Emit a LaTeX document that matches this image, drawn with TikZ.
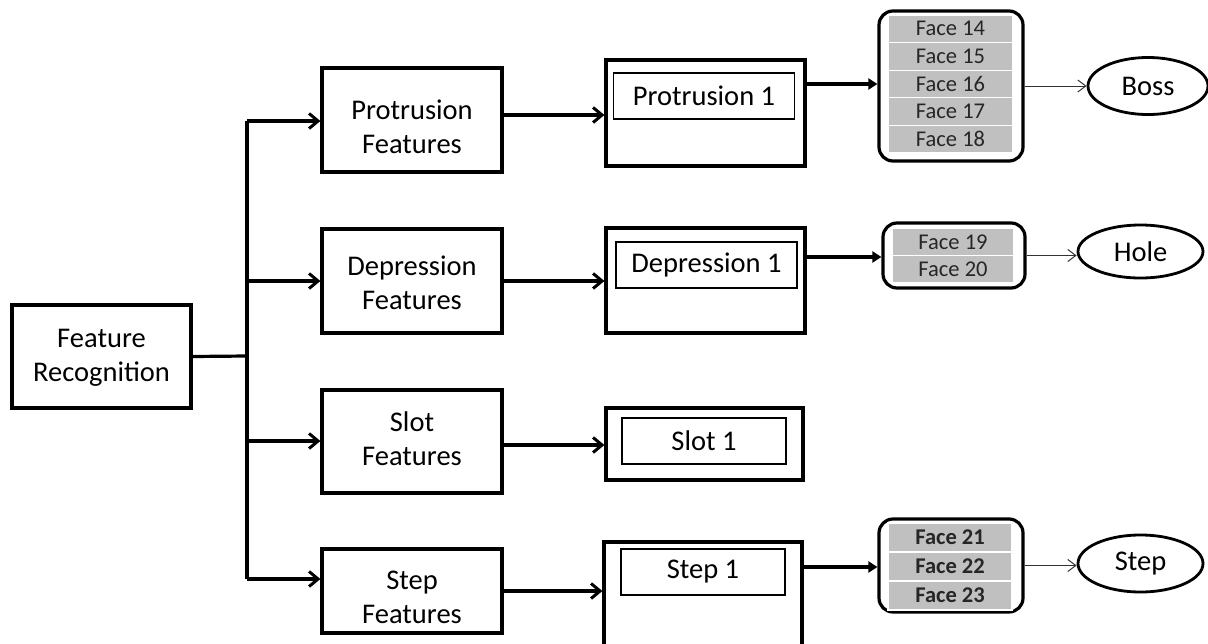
\documentclass[tikz,border=0pt]{standalone}
\usepackage{fontspec}
\setmainfont{Carlito}
\usetikzlibrary{arrows.meta,shapes.geometric}
\definecolor{cellgray}{HTML}{C0C0C0}
\definecolor{facetext}{HTML}{262626}
\begin{document}
\begin{tikzpicture}[x=1pt,y=-1pt,
  bigtxt/.style={font=\fontsize{28.5}{34}\selectfont},
  box/.style={draw, line width=3.2pt, align=center, bigtxt, inner sep=0pt},
  boxtext/.style={align=center, bigtxt, inner sep=0pt},
  labelbox/.style={draw, line width=1.1pt, bigtxt, inner sep=0pt, minimum width=#1, minimum height=46},
  facegroup/.style={draw, line width=3.2pt, rounded corners=14pt, inner sep=0pt},
  cell/.style={fill=cellgray, draw=white, line width=1.2pt, inner sep=0pt, text=facetext,
    font=\fontsize{22.5}{24}\selectfont},
  boldcell/.style={cell, font=\fontsize{22.5}{24}\selectfont\bfseries},
  shape out/.style={ellipse, draw, line width=2.8pt, bigtxt, inner sep=0pt},
  mainarrow/.style={line width=3.2pt, -{Straight Barb[length=9pt,width=15pt,line width=3pt]}},
  thickarrow/.style={line width=3.2pt, -{Triangle[length=9pt,width=11pt]}},
  thinarrow/.style={line width=1pt, draw=black!80, -{Straight Barb[length=8pt,width=12pt,line width=1pt]}},
  trunk/.style={line width=3.2pt}
]
\useasboundingbox (0,0) rectangle (1208,643);

% first column
\node[box, minimum width=179, minimum height=103] (fr) at (101.5,356.5) {};
\node[boxtext] (frt) at (101.5,358) {Feature\\Recognition};

\node[box, minimum width=180, minimum height=104] (pf) at (412,120) {};
\node[boxtext] (pft) at (412,127) {Protrusion\\Features};
\node[box, minimum width=180, minimum height=104] (df) at (412,281) {};
\node[boxtext] (dft) at (412,283) {Depression\\Features};
\node[box, minimum width=180, minimum height=103] (sf) at (412,441.5) {};
\node[boxtext] (sft) at (412,439) {Slot\\Features};
\node[box, minimum width=180, minimum height=84] (stf) at (412,591) {};
\node[boxtext] (stft) at (412,597) {Step\\Features};

% trunk
\coordinate (t1) at (247,121);
\coordinate (t2) at (247,281);
\coordinate (tm) at (247,356);
\coordinate (t3) at (247,441);
\coordinate (t4) at (247,579);
\draw[trunk] (t1) -- (t4);
\draw[trunk] (fr.east) -- (tm);
\draw[mainarrow] (t1) -- (t1 -| pf.west);
\draw[mainarrow] (t2) -- (t2 -| df.west);
\draw[mainarrow] (t3) -- (t3 -| sf.west);
\draw[mainarrow] (t4) -- (t4 -| stf.west);

% second column
\node[box, minimum width=199, minimum height=106] (p1) at (705.5,113) {};
\node[labelbox=181] (p1l) at (704,96) {Protrusion 1};
\node[box, minimum width=199, minimum height=105] (d1) at (705.5,280.5) {};
\node[labelbox=181] (d1l) at (706.5,265) {Depression 1};
\node[box, minimum width=197, minimum height=72] (s1) at (704.5,444) {};
\node[labelbox=164] (s1l) at (704,441) {Slot 1};
\node[box, minimum width=198, minimum height=104] (st1) at (703,594) {};
\node[labelbox=164] (st1l) at (703,572) {Step 1};

\coordinate (pa) at (502,115);
\coordinate (sa) at (502,445);
\draw[mainarrow] (pa) -- (pa -| p1.west);
\draw[mainarrow] (df.east) -- (df.east -| d1.west);
\draw[mainarrow] (sa) -- (sa -| s1.west);
\draw[mainarrow] (stf.east) -- (stf.east -| st1.west);

% face groups
\node[facegroup, minimum width=144, minimum height=150] (fb1) at (951,86) {};
\node[cell, minimum width=125, minimum height=27.6] (c14) at (950.5,28.8) {Face 14};
\node[cell, minimum width=125, minimum height=27.6] (c15) at (950.5,56.4) {Face 15};
\node[cell, minimum width=125, minimum height=27.6] (c16) at (950.5,84) {Face 16};
\node[cell, minimum width=125, minimum height=27.6] (c17) at (950.5,111.6) {Face 17};
\node[cell, minimum width=125, minimum height=27.6] (c18) at (950.5,139.2) {Face 18};

\node[facegroup, minimum width=142, minimum height=65] (fb2) at (954,255.5) {};
\node[cell, minimum width=122, minimum height=27] (c19) at (953,242) {Face 19};
\node[cell, minimum width=122, minimum height=27] (c20) at (953,269) {Face 20};

\node[facegroup, minimum width=144, minimum height=93] (fb3) at (951,565.5) {};
\node[boldcell, minimum width=124, minimum height=29] (c21) at (950,537.5) {Face 21};
\node[boldcell, minimum width=124, minimum height=29] (c22) at (950,566.5) {Face 22};
\node[boldcell, minimum width=124, minimum height=29] (c23) at (950,595.5) {Face 23};

\coordinate (pb) at (805,84);
\coordinate (db) at (805,257);
\coordinate (sb) at (802,567);
\draw[thickarrow] (pb) -- (pb -| fb1.west);
\draw[thickarrow] (db) -- (db -| fb2.west);
\draw[thickarrow] (sb) -- (sb -| fb3.west);

% results
\node[shape out, minimum width=120, minimum height=57] (boss) at (1148,86) {Boss};
\node[shape out, minimum width=125, minimum height=53] (hole) at (1140.5,251.5) {Hole};
\node[shape out, minimum width=125, minimum height=57] (stepE) at (1140.5,563.5) {Step};

\draw[thinarrow] (fb1.east) -- (fb1.east -| boss.west);
\draw[thinarrow] (fb2.east) -- (fb2.east -| hole.west);
\draw[thinarrow] (fb3.east) -- (fb3.east -| stepE.west);
\end{tikzpicture}
\end{document}
